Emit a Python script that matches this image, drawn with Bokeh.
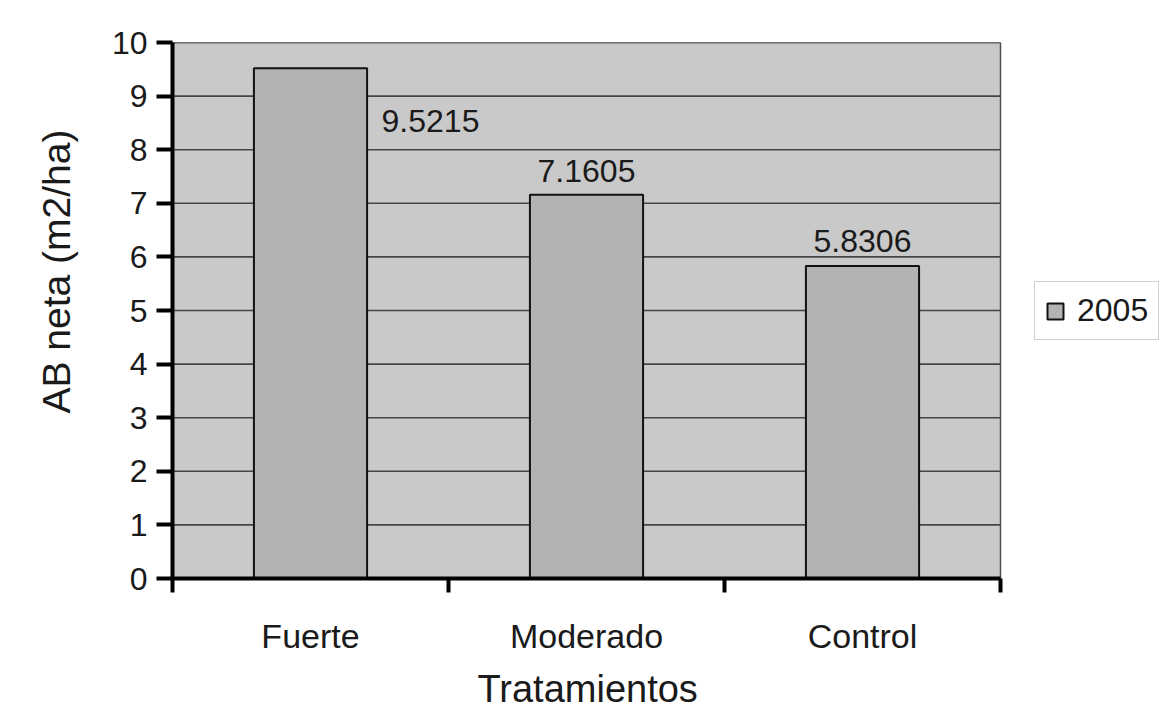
from bokeh.plotting import figure
from bokeh.models import FixedTicker, Range1d, ColumnDataSource, Legend, LegendItem, Title
from bokeh.core.properties import value
from bokeh.embed import file_html
from bokeh.resources import INLINE

categories = ["Fuerte", "Moderado", "Control"]
values_2005 = [9.5215, 7.1605, 5.8306]
value_labels = ["9.5215", "7.1605", "5.8306"]
series_name = "2005"
y_ticks = [0, 1, 2, 3, 4, 5, 6, 7, 8, 9, 10]
x_title = "Tratamientos"
y_title = "AB neta (m2/ha)"

# label placement offsets (pixels)
label_dx = [120, 0, 0]
label_dy = [53, -24, -25]

FONT = "Liberation Sans"
TXT = "#1a1a1a"

n = len(categories)
xs = [i + 0.5 for i in range(n)]
src = ColumnDataSource(dict(x=xs, top=values_2005, lab=value_labels, dx=label_dx, dy=label_dy))

# frame spans to the right edge so the legend can sit beside the plot area
x_end = n * 988 / 828

p = figure(width=1160, height=718, output_backend="svg", toolbar_location=None,
           x_range=Range1d(0, x_end), y_range=Range1d(0, 10),
           min_border_left=172, min_border_right=0, min_border_top=42, min_border_bottom=140)
p.background_fill_color = "white"
p.border_fill_color = "white"
p.outline_line_color = None

# plot area background + border
p.quad(left=0, right=n, bottom=0, top=10, fill_color="#c9c9c9",
       line_color="#505050", line_width=1.5, level="image")

# horizontal grid lines limited to the plot area
p.ygrid.visible = False
p.xgrid.visible = False
p.segment(x0=[0] * len(y_ticks), x1=[n] * len(y_ticks), y0=y_ticks, y1=y_ticks,
          line_color="#454545", line_width=1.6, level="underlay")

r = p.vbar(x="x", top="top", width=0.41, bottom=0, source=src,
           fill_color="#b3b3b3", line_color="#111111", line_width=2)

p.text(x="x", y="top", text="lab", x_offset="dx", y_offset="dy", source=src,
       text_font=value(FONT), text_font_size="32px", text_color=TXT,
       text_align="center", text_baseline="middle")

# y axis
ya = p.yaxis[0]
ya.ticker = FixedTicker(ticks=y_ticks)
ya.axis_line_width = 4
ya.axis_line_color = "black"
ya.major_tick_line_width = 4
ya.major_tick_out = 16
ya.major_tick_in = 0
ya.minor_tick_line_color = None
ya.major_label_standoff = 9
ya.major_label_text_font = FONT
ya.major_label_text_font_size = "32px"
ya.major_label_text_color = TXT

# x axis
xa = p.xaxis[0]
xa.bounds = (0, n)
xa.ticker = FixedTicker(ticks=xs, minor_ticks=list(range(n + 1)))
xa.major_label_overrides = {x: c for x, c in zip(xs, categories)}
xa.axis_line_width = 4
xa.axis_line_color = "black"
xa.major_tick_line_color = None
xa.major_tick_out = 14
xa.minor_tick_line_width = 4
xa.minor_tick_line_color = "black"
xa.minor_tick_out = 14
xa.minor_tick_in = 0
xa.major_label_standoff = 24
xa.major_label_text_font = FONT
xa.major_label_text_font_size = "34px"
xa.major_label_text_color = TXT

# axis titles
p.add_layout(Title(text=x_title, align="left", offset=305, vertical_align="bottom",
                   standoff=17, text_font=FONT, text_font_size="38px",
                   text_font_style="normal", text_color=TXT), "below")
p.add_layout(Title(text=y_title, align="left", offset=165, vertical_align="middle",
                   standoff=60, text_font=FONT, text_font_size="39px",
                   text_font_style="normal", text_color=TXT), "left")

legend = Legend(items=[LegendItem(label=series_name, renderers=[r])], location=(862, 238))
legend.label_text_font = FONT
legend.label_text_font_size = "32px"
legend.label_text_color = TXT
legend.border_line_color = "#a0a0a0"
legend.border_line_width = 1.5
legend.background_fill_color = "white"
legend.glyph_width = 20
legend.glyph_height = 20
legend.padding = 10
legend.spacing = 0
legend.label_standoff = 12
legend.margin = 0
p.add_layout(legend, "center")

open("out.html", "w").write(file_html(p, INLINE))
